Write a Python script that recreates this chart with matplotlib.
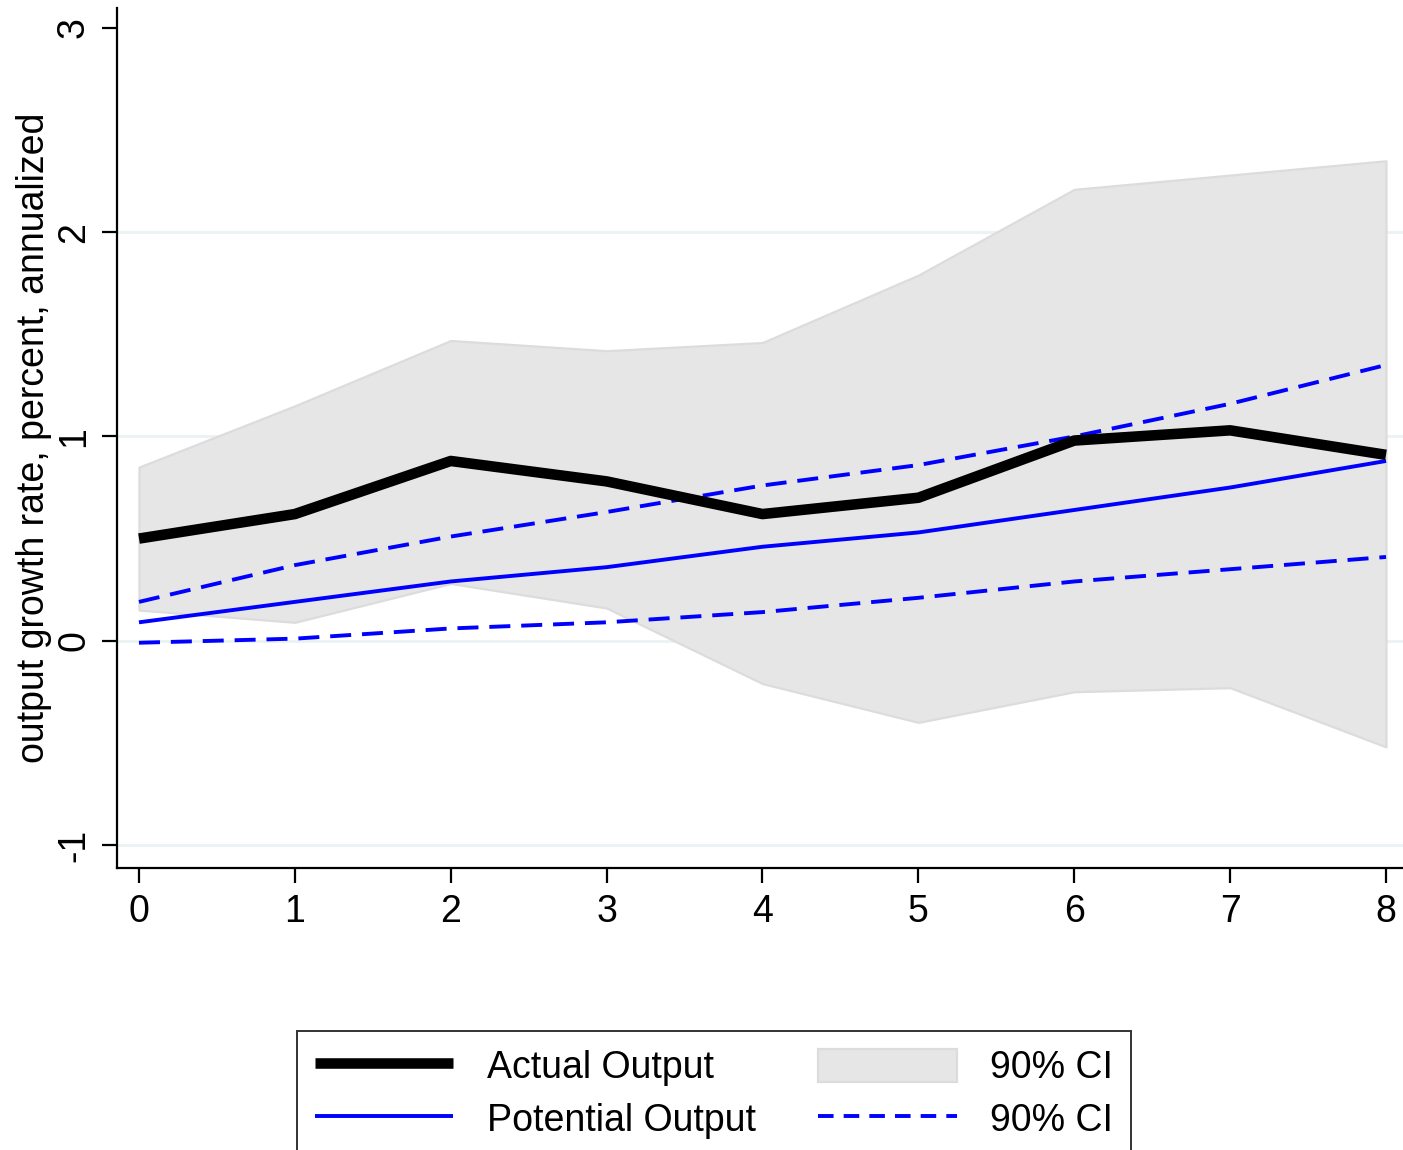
import matplotlib
matplotlib.use("Agg")
import matplotlib.pyplot as plt
from matplotlib.patches import Patch
from matplotlib.lines import Line2D

plt.rcParams['font.family'] = ['Liberation Sans', 'DejaVu Sans']

horizon = [0, 1, 2, 3, 4, 5, 6, 7, 8]
actual = [0.50, 0.62, 0.88, 0.78, 0.62, 0.70, 0.98, 1.03, 0.91]
actual_hi = [0.85, 1.15, 1.47, 1.42, 1.46, 1.79, 2.21, 2.28, 2.35]
actual_lo = [0.15, 0.09, 0.28, 0.16, -0.21, -0.40, -0.25, -0.23, -0.52]
potential = [0.09, 0.19, 0.29, 0.36, 0.46, 0.53, 0.64, 0.75, 0.88]
potential_hi = [0.19, 0.37, 0.51, 0.63, 0.76, 0.86, 1.00, 1.16, 1.35]
potential_lo = [-0.01, 0.01, 0.06, 0.09, 0.14, 0.21, 0.29, 0.35, 0.41]
yticks = [-1, 0, 1, 2, 3]
gridticks = [-1, 0, 1, 2]

W, H = 1403, 1150
fig = plt.figure(figsize=(W / 100, H / 100), dpi=100)
ax = fig.add_axes([117 / W, 1 - 868 / H, 1 - 117 / W, (868 - 8) / H])

for g in gridticks:
    ax.axhline(g, color='#eaf2f3', lw=2.0, zorder=0)

band_fill = '#e6e6e6'
band_edge = '#dcdcdc'
ax.fill_between(horizon, actual_lo, actual_hi, facecolor=band_fill,
                edgecolor=band_edge, lw=1.6, zorder=1)
blue_lw = 2.8
dash = (0, (5.4, 2.8))
ax.plot(horizon, potential_hi, color='#0000ff', lw=blue_lw, ls=dash,
        dash_capstyle='butt', zorder=2)
ax.plot(horizon, potential_lo, color='#0000ff', lw=blue_lw, ls=dash,
        dash_capstyle='butt', zorder=2)
ax.plot(horizon, potential, color='#0000ff', lw=blue_lw,
        solid_capstyle='butt', zorder=3)
ax.plot(horizon, actual, color='black', lw=7.6, solid_capstyle='butt',
        zorder=4)

ax.set_xlim(-0.141, 8.109)
ax.set_ylim(-1.113, 3.098)
ax.set_xticks(horizon)
ax.set_yticks(yticks)
ax.set_yticklabels([str(t) for t in yticks], rotation=90, va='center')
ax.tick_params(axis='both', labelsize=27, width=1.6, length=11, color='black')
ax.tick_params(axis='y', pad=7)
ax.tick_params(axis='x', pad=8)
for s in ['top', 'right']:
    ax.spines[s].set_visible(False)
for s in ['left', 'bottom']:
    ax.spines[s].set_linewidth(1.6)
ax.set_ylabel('output growth rate, percent, annualized', fontsize=27, labelpad=3)

handles = [
    Line2D([], [], color='black', lw=7.6, solid_capstyle='butt'),
    Line2D([], [], color='#0000ff', lw=blue_lw, solid_capstyle='butt'),
    Patch(facecolor=band_fill, edgecolor=band_edge, lw=1.6),
    Line2D([], [], color='#0000ff', lw=blue_lw, ls=(0, (4.0, 2.6)),
           dash_capstyle='butt'),
]
labels = ['Actual Output', 'Potential Output', '90% CI', '90% CI']
leg = fig.legend(handles, labels, ncol=2, loc='upper left',
                 bbox_to_anchor=(297 / W, 1 - 1031 / H), fontsize=27,
                 frameon=True, fancybox=False, edgecolor='black',
                 handlelength=3.7, handleheight=1.0, handletextpad=0.9,
                 columnspacing=1.65, borderpad=0.47, labelspacing=0.4,
                 borderaxespad=0)
leg.get_frame().set_linewidth(1.4)

fig.savefig('out.png', dpi=100)
